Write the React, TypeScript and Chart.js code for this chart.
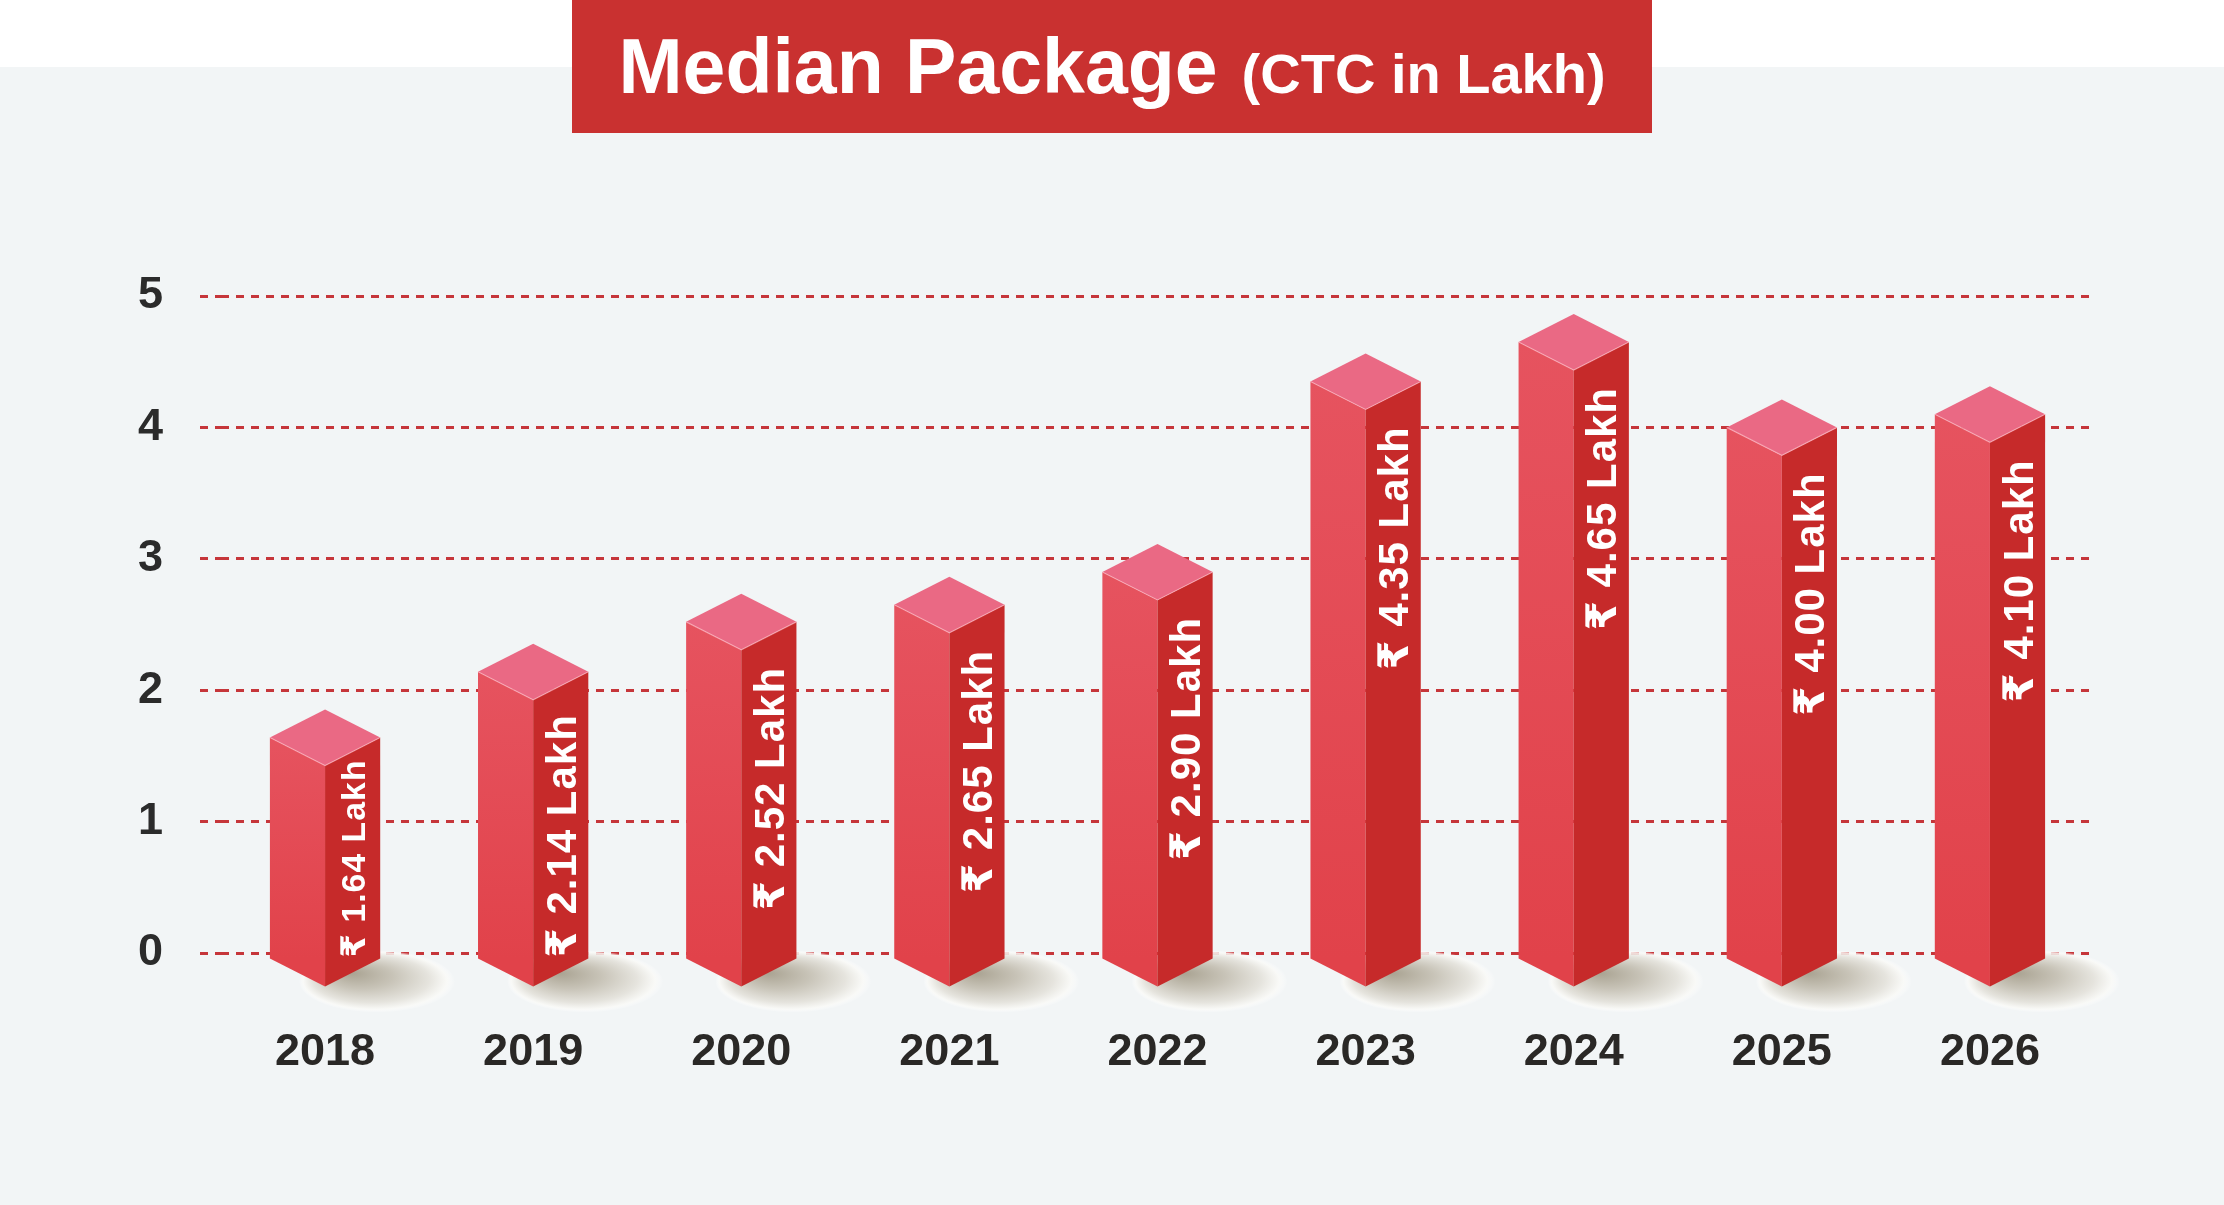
import { useEffect, useRef } from 'react';
import { Chart, registerables, Plugin } from 'chart.js';

Chart.register(...registerables);

// chart data
const years = ['2018', '2019', '2020', '2021', '2022', '2023', '2024', '2025', '2026'];
const medianPackage = [1.64, 2.14, 2.52, 2.65, 2.9, 4.35, 4.65, 4.0, 4.1];
const yTicks = [0, 1, 2, 3, 4, 5];

const titleMain = 'Median Package';
const titleSub = '(CTC in Lakh)';

const FONT = "'Liberation Sans', Arial, 'DejaVu Sans', sans-serif";
const W = 2224;
const H = 1205;

// page background + red title box
const backdropPlugin: Plugin<'bar'> = {
    id: 'backdrop',
    beforeDraw: (chart) => {
        const ctx = chart.ctx;
        ctx.save();
        ctx.fillStyle = '#ffffff';
        ctx.fillRect(0, 0, W, H);
        ctx.fillStyle = '#f2f5f6';
        ctx.fillRect(0, 67, W, H - 67);

        const boxLeft = 572;
        const boxWidth = 1080;
        ctx.fillStyle = '#c93130';
        ctx.fillRect(boxLeft, 0, boxWidth, 133);

        ctx.fillStyle = '#ffffff';
        ctx.textBaseline = 'alphabetic';
        ctx.textAlign = 'left';
        ctx.font = `bold 77px ${FONT}`;
        const w1 = ctx.measureText(titleMain).width;
        ctx.font = `bold 56px ${FONT}`;
        const w2 = ctx.measureText(titleSub).width;
        const gap = 24;
        const start = boxLeft + boxWidth / 2 - (w1 + gap + w2) / 2;
        ctx.font = `bold 77px ${FONT}`;
        ctx.fillText(titleMain, start, 93);
        ctx.font = `bold 56px ${FONT}`;
        ctx.fillText(titleSub, start + w1 + gap, 93);
        ctx.restore();
    },
};

// isometric prisms drawn on top of the (invisible) bar elements
const prismPlugin: Plugin<'bar'> = {
    id: 'prisms',
    afterDatasetsDraw: (chart) => {
        const ctx = chart.ctx;
        const meta = chart.getDatasetMeta(0);
        const dz = 28;
        const drop = 7;

        // soft floor shadows first
        meta.data.forEach((el) => {
            const { x, base } = el.getProps(['x', 'base'], true) as any;
            const cx = x + 52;
            const cy = base + 30;
            const rx = 78;
            const ry = 31;
            ctx.save();
            ctx.translate(cx, cy);
            ctx.scale(1, ry / rx);
            const g = ctx.createRadialGradient(-26, -22, 0, 0, 0, rx);
            g.addColorStop(0, 'rgba(165,158,140,0.95)');
            g.addColorStop(0.4, 'rgba(196,191,178,0.92)');
            g.addColorStop(0.75, 'rgba(228,226,219,0.9)');
            g.addColorStop(0.92, 'rgba(250,250,247,0.85)');
            g.addColorStop(1, 'rgba(255,255,255,0)');
            ctx.fillStyle = g;
            ctx.beginPath();
            ctx.arc(0, 0, rx, 0, Math.PI * 2);
            ctx.fill();
            ctx.restore();
        });

        meta.data.forEach((el, i) => {
            const { x, y, base, width } = el.getProps(['x', 'y', 'base', 'width'], true) as any;
            const hw = width / 2;
            const bottom = base + drop;
            ctx.save();

            // left face
            const lg = ctx.createLinearGradient(0, y, 0, bottom);
            lg.addColorStop(0, '#e6535f');
            lg.addColorStop(1, '#e1424a');
            ctx.fillStyle = lg;
            ctx.beginPath();
            ctx.moveTo(x - hw, y);
            ctx.lineTo(x, y + dz);
            ctx.lineTo(x, bottom + dz);
            ctx.lineTo(x - hw, bottom);
            ctx.closePath();
            ctx.fill();

            // right face
            ctx.fillStyle = '#c62a2a';
            ctx.beginPath();
            ctx.moveTo(x, y + dz);
            ctx.lineTo(x + hw, y);
            ctx.lineTo(x + hw, bottom);
            ctx.lineTo(x, bottom + dz);
            ctx.closePath();
            ctx.fill();

            // top face
            ctx.fillStyle = '#ea6984';
            ctx.beginPath();
            ctx.moveTo(x - hw, y);
            ctx.lineTo(x, y - dz);
            ctx.lineTo(x + hw, y);
            ctx.lineTo(x, y + dz);
            ctx.closePath();
            ctx.fill();

            ctx.strokeStyle = 'rgba(255,190,200,0.6)';
            ctx.lineWidth = 1.2;
            ctx.beginPath();
            ctx.moveTo(x - hw, y);
            ctx.lineTo(x, y + dz);
            ctx.lineTo(x + hw, y);
            ctx.stroke();

            // value label on the right face, reading upward
            const label = `₹ ${medianPackage[i].toFixed(2)} Lakh`;
            let size = 42;
            (ctx as any).letterSpacing = '1px';
            ctx.font = `bold ${size}px ${FONT}`;
            let len = ctx.measureText(label).width;
            const frontTop = y + dz;
            let end = frontTop + 17 + len;
            if (end > bottom - 1) {
                const room = bottom - 1 - (frontTop - 4);
                if (len > room) {
                    size = (size * room) / len;
                    ctx.font = `bold ${size}px ${FONT}`;
                    len = ctx.measureText(label).width;
                }
                end = bottom - 1;
            }
            const capH = size * 0.716;
            ctx.translate(x + hw / 2 + capH / 2, end);
            ctx.rotate(-Math.PI / 2);
            ctx.fillStyle = '#ffffff';
            ctx.textAlign = 'left';
            ctx.textBaseline = 'alphabetic';
            ctx.fillText(label, 0, 0);
            (ctx as any).letterSpacing = '0px';
            ctx.restore();
        });
    },
};

const App = () => {
    const canvasRef = useRef<HTMLCanvasElement | null>(null);
    const chartInstance = useRef<Chart<'bar'> | null>(null);

    useEffect(() => {
        if (!canvasRef.current) return;
        if (chartInstance.current) chartInstance.current.destroy();

        const tickFont = { family: FONT, size: 45, weight: 'bold' as const };
        const gridColor = '#c6363a';

        chartInstance.current = new Chart(canvasRef.current, {
            type: 'bar',
            data: {
                labels: years,
                datasets: [
                    {
                        data: medianPackage,
                        backgroundColor: 'rgba(0,0,0,0)',
                        borderWidth: 0,
                        barPercentage: 0.53,
                        categoryPercentage: 1,
                    },
                ],
            },
            options: {
                responsive: false,
                animation: false,
                devicePixelRatio: 1,
                events: [],
                layout: { padding: { top: 296, right: 130, left: 0, bottom: 0 } },
                plugins: {
                    legend: { display: false },
                    tooltip: { enabled: false },
                    title: { display: false },
                },
                scales: {
                    x: {
                        grid: { display: false, drawTicks: false },
                        border: { display: false },
                        ticks: { font: tickFont, color: '#2a2826', padding: 73 },
                        afterFit: (s) => {
                            s.height = 252;
                        },
                    },
                    y: {
                        min: 0,
                        max: 5,
                        afterBuildTicks: (s) => {
                            s.ticks = yTicks.map((v) => ({ value: v }));
                        },
                        ticks: { font: tickFont, color: '#2b2b2b', padding: 37 },
                        grid: {
                            color: gridColor,
                            lineWidth: 3,
                            drawTicks: true,
                            tickLength: 21,
                            tickColor: gridColor,
                            tickWidth: 3,
                            tickBorderDash: [8, 7],
                        },
                        border: { display: false, dash: [8, 7] },
                        afterFit: (s) => {
                            s.width = 221;
                        },
                    },
                },
            },
            plugins: [backdropPlugin, prismPlugin],
        });

        return () => {
            if (chartInstance.current) {
                chartInstance.current.destroy();
                chartInstance.current = null;
            }
        };
    }, []);

    return (
        <div style={{ position: 'absolute', left: 0, top: 0, width: W, height: H }}>
            <canvas ref={canvasRef} width={W} height={H} />
        </div>
    );
};

export default App;
